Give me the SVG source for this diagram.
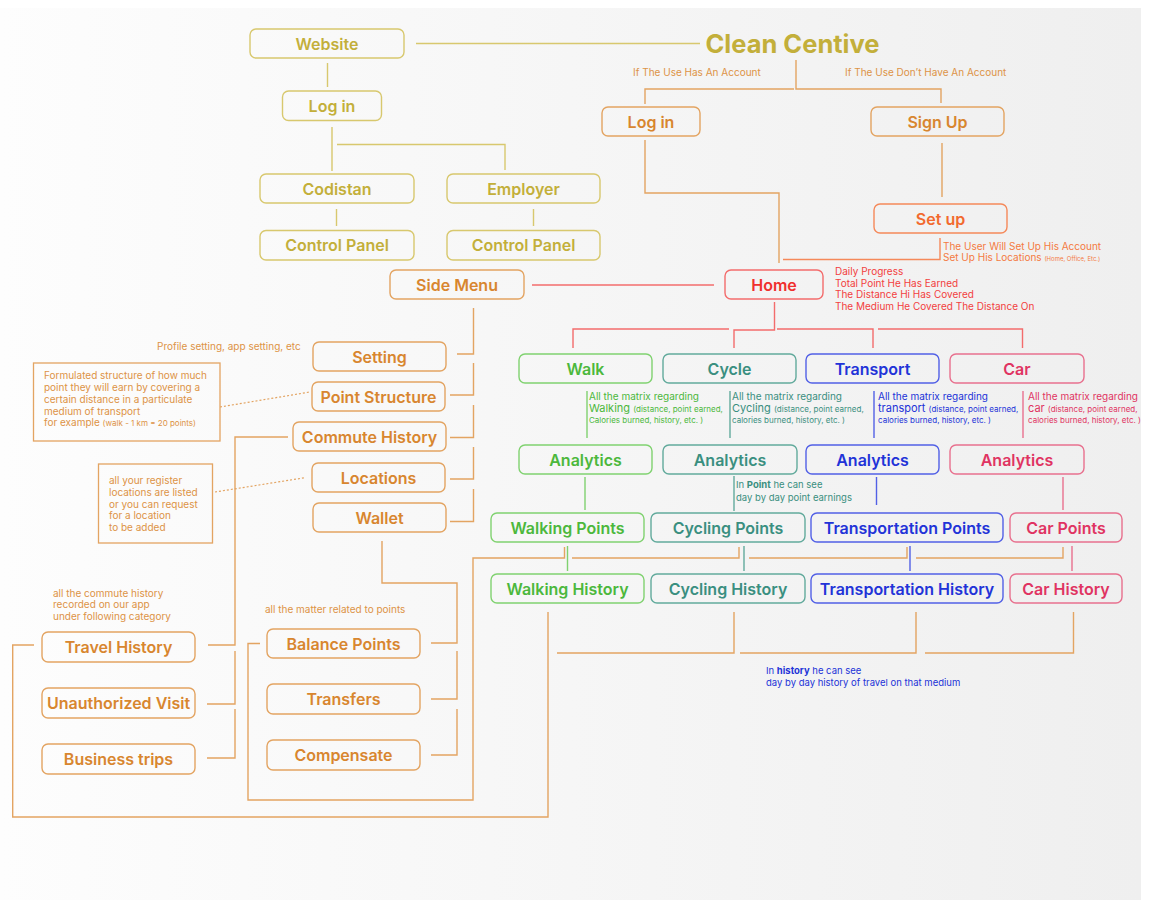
<svg xmlns="http://www.w3.org/2000/svg" width="1151" height="900" viewBox="0 0 1151 900">
<defs>
<linearGradient id="bg" x1="0" y1="0" x2="1" y2="0">
<stop offset="0" stop-color="#fdfdfd"/>
<stop offset="0.5" stop-color="#f6f6f6"/>
<stop offset="1" stop-color="#efefef"/>
</linearGradient>
<clipPath id="clip"><rect x="0" y="0" width="1141" height="900"/></clipPath>
<style>
text{font-family:"Inter","Open Sans","Liberation Sans",sans-serif}
.bx{fill:none;stroke-width:1.4;rx:6px;ry:6px}
.nb{fill:none;stroke-width:1.3}
.lb{font-size:16px;font-weight:600;text-anchor:middle}
.sm{font-size:10px;font-weight:400}
.ln{fill:none;stroke-width:1.4}
.dot{fill:none;stroke-width:1.2;stroke-dasharray:2 2}
.gS{stroke:#d8c86e}.gT{fill:#c3af3a}
.oS{stroke:#e3a462}.oT{fill:#d8862f}.oN{fill:#dd9346}
.rS{stroke:#f36c6c}.rT{fill:#f0302e}.rN{fill:#f24040}
.sS{stroke:#f5895a}.sT{fill:#f26a2e}.sN{fill:#f47a42}
.wS{stroke:#80d270}.wT{fill:#4cb83c}
.cS{stroke:#62aa9c}.cT{fill:#3a8f80}
.tS{stroke:#5260e6}.tT{fill:#2233d8}
.pS{stroke:#e8708e}.pT{fill:#e03462}
</style>
</defs>
<rect x="0" y="8" width="1141" height="892" fill="url(#bg)"/>
<g clip-path="url(#clip)">
<g id="connectors">
<g class="ln gS">
<path d="M416 43.5H700"/>
<path d="M327.5 63V87"/>
<path d="M332 127V171"/>
<path d="M337 144.5H505V170"/>
<path d="M336.5 209V226"/>
<path d="M533.5 209V226"/>
</g>
<g class="ln oS">
<path d="M645 104V89H794"/>
<path d="M796 60V89H941V103"/>
<path d="M645 140V193H779V263"/>
<path d="M942 143V197"/>
</g>
<path class="ln sS" d="M940 238V259.5H783"/>
<g class="ln rS">
<path d="M532 285H714"/>
<path d="M573 348V329H729"/>
<path d="M734 348V330H774.5V302"/>
<path d="M777 329H873V348"/>
<path d="M878 329H1022.5V348"/>
</g>
<g class="ln wS"><path d="M587 391V438"/><path d="M585 477V510"/><path d="M567.5 546V571"/></g>
<g class="ln cS"><path d="M730 391V438"/><path d="M734 476V511"/><path d="M744 546V571"/></g>
<g class="ln tS"><path d="M874 391V438"/><path d="M876.5 477V505"/><path d="M910 546V571"/></g>
<g class="ln pS"><path d="M1023 391V438"/><path d="M1063 477V510"/><path d="M1072 546V571"/></g>
<g class="ln oS">
<path d="M564.5 547V558H473V800H248V643.5H260"/>
<path d="M572 558H739V547"/>
<path d="M749 558H907V547"/>
<path d="M916 558H1063V547"/>
<path d="M557 653H734V612"/>
<path d="M740 653H916V612"/>
<path d="M925 653H1073.5V612"/>
<path d="M548 612V817H12.7V645H34"/>
<path d="M473.5 308V354H457"/>
<path d="M473.5 363V395H450"/>
<path d="M473.5 405V437.5H450"/>
<path d="M473.5 447V479H450"/>
<path d="M473.5 489V521.5H450"/>
<path d="M288 437H235V645H208"/>
<path d="M235 651V704H207"/>
<path d="M235 709V758H207"/>
<path d="M382 541V583H457V643H431"/>
<path d="M457 651V699H431"/>
<path d="M457 709V755H431"/>
</g>
<g class="dot oS">
<path d="M220 407L310 392"/>
<path d="M215 492L305 477.7"/>
</g>
</g>

<g id="title"><text x="792.5" y="53" class="gT" style="font-size:25.5px;font-weight:700;text-anchor:middle">Clean Centive</text></g>
<g id="website"><rect class="bx gS" x="250" y="29" width="154" height="29"/><text class="lb gT" x="327" y="49.5">Website</text></g>
<g id="web-login"><rect class="bx gS" x="282.5" y="91" width="99" height="29.5"/><text class="lb gT" x="332" y="111.5">Log in</text></g>
<g id="codistan"><rect class="bx gS" x="260" y="174" width="154" height="29"/><text class="lb gT" x="337" y="194.5">Codistan</text></g>
<g id="employer"><rect class="bx gS" x="447" y="174" width="153" height="29"/><text class="lb gT" x="523.5" y="194.5">Employer</text></g>
<g id="cp-codistan"><rect class="bx gS" x="260" y="230.5" width="154" height="29.5"/><text class="lb gT" x="337" y="251">Control Panel</text></g>
<g id="cp-employer"><rect class="bx gS" x="447" y="230.5" width="153" height="29.5"/><text class="lb gT" x="523.5" y="251">Control Panel</text></g>

<g id="notes-top" class="sm oN">
<text x="633" y="75.5">If The Use Has An Account</text>
<text x="845" y="75.5">If The Use Don’t Have An Account</text>
</g>
<g id="app-login"><rect class="bx oS" x="602" y="107" width="98" height="29"/><text class="lb oT" x="651" y="127.5">Log in</text></g>
<g id="signup"><rect class="bx oS" x="871" y="107" width="133" height="29"/><text class="lb oT" x="937.5" y="127.5">Sign Up</text></g>
<g id="setup"><rect class="bx sS" x="874" y="204" width="133" height="29"/><text class="lb sT" x="940.5" y="224.5">Set up</text>
<text class="sm sN" x="943" y="249.5">The User Will Set Up His Account</text>
<text class="sm sN" x="943" y="261">Set Up His Locations <tspan style="font-size:6px">(Home, Office, Etc.)</tspan></text></g>
<g id="home"><rect class="bx rS" x="725" y="270" width="98" height="29"/><text class="lb rT" x="774" y="290.5">Home</text>
<g class="rN" style="font-size:10px">
<text x="835" y="274.5">Daily Progress</text>
<text x="835" y="286.8">Total Point He Has Earned</text>
<text x="835" y="298.2">The Distance Hi Has Covered</text>
<text x="835" y="310.2">The Medium He Covered The Distance On</text>
</g></g>
<g id="side-menu"><rect class="bx oS" x="390" y="270" width="134" height="29"/><text class="lb oT" x="457" y="290.5">Side Menu</text></g>

<g id="setting"><rect class="bx oS" x="313" y="342" width="133" height="29"/><text class="lb oT" x="379.5" y="362.5">Setting</text>
<text class="sm oN" x="157" y="349.5">Profile setting, app setting, etc</text></g>
<g id="point-structure"><rect class="bx oS" x="312" y="382" width="133" height="29"/><text class="lb oT" x="378.5" y="402.5">Point Structure</text></g>
<g id="point-structure-note"><rect class="nb oS" x="33.5" y="363" width="186.5" height="78"/>
<g class="sm oN">
<text x="44" y="379">Formulated structure of how much</text>
<text x="44" y="390.5">point they will earn by covering a</text>
<text x="44" y="402.5">certain distance in a particulate</text>
<text x="44" y="414.5">medium of transport</text>
<text x="44" y="425.5">for example <tspan style="font-size:8px">(walk - 1 km  = 20 points)</tspan></text>
</g></g>
<g id="commute-history"><rect class="bx oS" x="293" y="422" width="153" height="29"/><text class="lb oT" x="369.5" y="442.5">Commute History</text></g>
<g id="locations"><rect class="bx oS" x="312" y="463" width="133" height="29"/><text class="lb oT" x="378.5" y="483.5">Locations</text></g>
<g id="locations-note"><rect class="nb oS" x="98.5" y="464" width="114" height="79"/>
<g class="sm oN">
<text x="109" y="483.5">all your register</text>
<text x="109" y="495.5">locations are listed</text>
<text x="109" y="507.5">or you can request</text>
<text x="109" y="519">for a location</text>
<text x="109" y="530.5">to be added</text>
</g></g>
<g id="wallet"><rect class="bx oS" x="313" y="503" width="133" height="29"/><text class="lb oT" x="379.5" y="523.5">Wallet</text></g>

<g id="commute-note" class="sm oN">
<text x="53" y="596.5">all the commute history</text>
<text x="53" y="608">recorded on our app</text>
<text x="53" y="620">under following category</text>
</g>
<g id="travel-history"><rect class="bx oS" x="42" y="632" width="153" height="30"/><text class="lb oT" x="118.5" y="653">Travel History</text></g>
<g id="unauthorized-visit"><rect class="bx oS" x="42" y="688" width="153" height="30"/><text class="lb oT" x="118.5" y="709">Unauthorized Visit</text></g>
<g id="business-trips"><rect class="bx oS" x="42" y="744" width="153" height="30"/><text class="lb oT" x="118.5" y="765">Business trips</text></g>

<g id="wallet-note"><text class="sm oN" x="265" y="612.5">all the matter related to points</text></g>
<g id="balance-points"><rect class="bx oS" x="267" y="629" width="153" height="29"/><text class="lb oT" x="343.5" y="649.5">Balance Points</text></g>
<g id="transfers"><rect class="bx oS" x="267" y="684" width="153" height="30"/><text class="lb oT" x="343.5" y="705">Transfers</text></g>
<g id="compensate"><rect class="bx oS" x="267" y="740" width="153" height="30"/><text class="lb oT" x="343.5" y="761">Compensate</text></g>

<g id="walk"><rect class="bx wS" x="519" y="354" width="133" height="29"/><text class="lb wT" x="585.5" y="374.5">Walk</text>
<g class="wT"><text class="sm" x="589" y="399.5">All the matrix regarding</text>
<text x="589" y="411.5" style="font-size:11px">Walking <tspan style="font-size:8px">(distance, point earned,</tspan></text>
<text x="589" y="422.5" style="font-size:8px">Calories burned, history, etc. )</text></g></g>
<g id="cycle"><rect class="bx cS" x="663" y="354" width="133" height="29"/><text class="lb cT" x="729.5" y="374.5">Cycle</text>
<g class="cT"><text class="sm" x="732" y="399.5">All the matrix regarding</text>
<text x="732" y="411.5" style="font-size:11px">Cycling <tspan style="font-size:8px">(distance, point earned,</tspan></text>
<text x="732" y="422.5" style="font-size:8px">calories burned, history, etc. )</text></g></g>
<g id="transport"><rect class="bx tS" x="806" y="354" width="133" height="29"/><text class="lb tT" x="872.5" y="374.5">Transport</text>
<g class="tT"><text class="sm" x="878" y="399.5">All the matrix regarding</text>
<text x="878" y="411.5" style="font-size:11px">transport <tspan style="font-size:8px">(distance, point earned,</tspan></text>
<text x="878" y="422.5" style="font-size:8px">calories burned, history, etc. )</text></g></g>
<g id="car"><rect class="bx pS" x="950" y="354" width="134" height="29"/><text class="lb pT" x="1017" y="374.5">Car</text>
<g class="pT"><text class="sm" x="1028" y="399.5">All the matrix regarding</text>
<text x="1028" y="411.5" style="font-size:11px">car <tspan style="font-size:8px">(distance, point earned,</tspan></text>
<text x="1028" y="422.5" style="font-size:8px">calories burned, history, etc. )</text></g></g>

<g id="walk-analytics"><rect class="bx wS" x="519" y="445" width="133" height="29"/><text class="lb wT" x="585.5" y="465.5">Analytics</text></g>
<g id="cycle-analytics"><rect class="bx cS" x="663" y="445" width="134" height="29"/><text class="lb cT" x="730" y="465.5">Analytics</text>
<g class="cT" style="font-size:9.5px"><text x="736" y="487.5">In <tspan style="font-weight:700">Point</tspan> he can see</text>
<text x="736" y="500.5">day by day point earnings</text></g></g>
<g id="transport-analytics"><rect class="bx tS" x="806" y="445" width="133" height="29"/><text class="lb tT" x="872.5" y="465.5">Analytics</text></g>
<g id="car-analytics"><rect class="bx pS" x="950" y="445" width="134" height="29"/><text class="lb pT" x="1017" y="465.5">Analytics</text></g>

<g id="walking-points"><rect class="bx wS" x="491" y="513" width="153" height="29"/><text class="lb wT" x="567.5" y="533.5">Walking Points</text></g>
<g id="cycling-points"><rect class="bx cS" x="651" y="513" width="154" height="29"/><text class="lb cT" x="728" y="533.5">Cycling Points</text></g>
<g id="transportation-points"><rect class="bx tS" x="811" y="513" width="192" height="29"/><text class="lb tT" x="907" y="533.5">Transportation Points</text></g>
<g id="car-points"><rect class="bx pS" x="1010" y="513" width="112" height="29"/><text class="lb pT" x="1066" y="533.5">Car Points</text></g>

<g id="walking-history"><rect class="bx wS" x="491" y="574" width="153" height="29"/><text class="lb wT" x="567.5" y="594.5">Walking History</text></g>
<g id="cycling-history"><rect class="bx cS" x="651" y="574" width="154" height="29"/><text class="lb cT" x="728" y="594.5">Cycling History</text></g>
<g id="transportation-history"><rect class="bx tS" x="811" y="574" width="192" height="29"/><text class="lb tT" x="907" y="594.5">Transportation History</text></g>
<g id="car-history"><rect class="bx pS" x="1010" y="574" width="112" height="29"/><text class="lb pT" x="1066" y="594.5">Car History</text></g>

<g id="history-note" class="tT" style="font-size:9.5px">
<text x="766" y="674">In <tspan style="font-weight:700">history</tspan> he can see</text>
<text x="766" y="685.5">day by day history of travel on that medium</text>
</g>
</g>
</svg>
